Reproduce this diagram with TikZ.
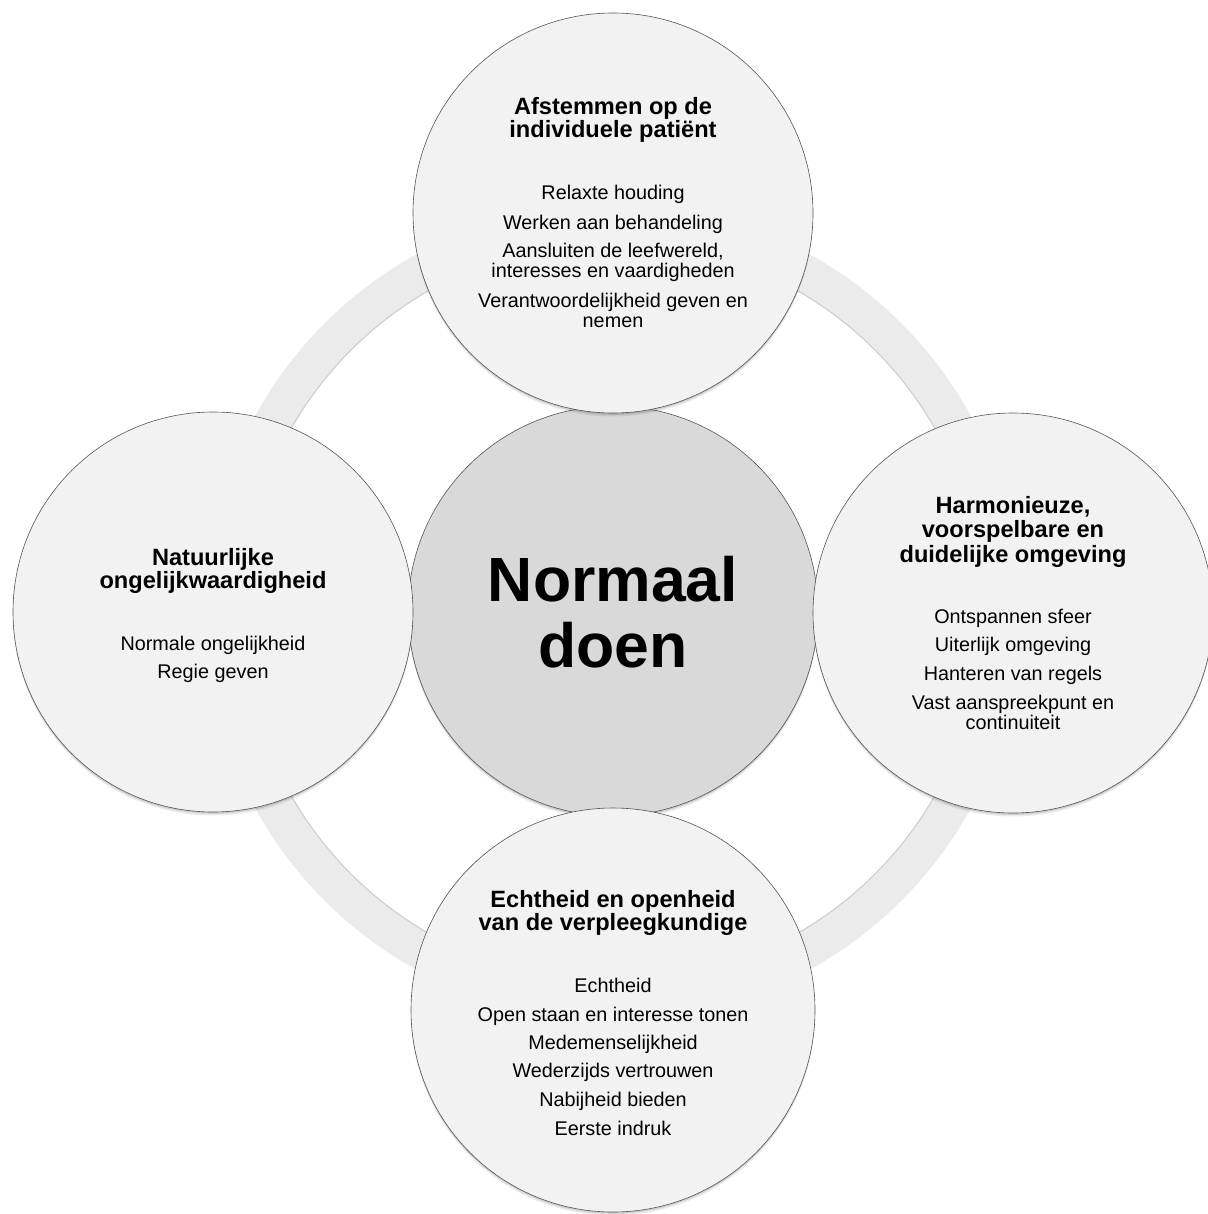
\documentclass[tikz,border=0pt]{standalone}
\usepackage{fontspec}
\setmainfont{Liberation Sans}
\usetikzlibrary{shadows}
\definecolor{ringc}{HTML}{EBEBEB}
\definecolor{ringedge}{HTML}{CDCDCD}
\definecolor{outerc}{HTML}{F2F2F2}
\definecolor{centc}{HTML}{D9D9D9}
\definecolor{edgec}{HTML}{555555}
\begin{document}
\begin{tikzpicture}[x=1pt,y=-1pt,
  bubble/.style={circle, draw=edgec, line width=0.6pt, inner sep=0pt,
    general shadow={fill=black, opacity=.08, shadow yshift=-3.5pt},
    general shadow={fill=black, opacity=.12, shadow yshift=-1.8pt}},
  head/.style={anchor=base, inner sep=0pt, font=\bfseries\fontsize{23.6}{24}\selectfont},
  body/.style={anchor=base, inner sep=0pt, font=\fontsize{19.8}{21}\selectfont},
  big/.style={anchor=base, inner sep=0pt, font=\bfseries\fontsize{62.5}{66}\selectfont}]
\useasboundingbox (0,0) rectangle (1207,1214);
\fill[white] (0,0) rectangle (1207,1214);
% ring
\draw[ringc, line width=38pt] (613,612) circle[radius=389];
\draw[ringedge, line width=1pt] (613,612) circle[radius=370.5];
% circles
\node[bubble, fill=centc, minimum size=410pt] (core) at (613,611) {};
\node[bubble, fill=outerc, minimum size=400pt] (top) at (613,213) {};
\node[bubble, fill=outerc, minimum size=400pt] (left) at (213,612) {};
\node[bubble, fill=outerc, minimum size=400pt] (right) at (1013,613) {};
\node[bubble, fill=outerc, minimum size=404pt] (bottom) at (613,1010) {};
% center text
\node[big] (c1) at (613,601) {Normaal};
\node[big] (c2) at (613,667) {doen};
% top
\node[head] (t1) at (613,115) {Afstemmen op de};
\node[head] (t2) at (613,138) {individuele patiënt};
\node[body] (t3) at (613,200) {Relaxte houding};
\node[body] (t4) at (613,230) {Werken aan behandeling};
\node[body] (t5) at (613,258) {Aansluiten de leefwereld,};
\node[body] (t6) at (613,278) {interesses en vaardigheden};
\node[body] (t7) at (613,307) {Verantwoordelijkheid geven en};
\node[body] (t8) at (613,327) {nemen};
% left
\node[head] (l1) at (213,565) {Natuurlijke};
\node[head] (l2) at (213,588) {ongelijkwaardigheid};
\node[body] (l3) at (213,650) {Normale ongelijkheid};
\node[body] (l4) at (213,678) {Regie geven};
% right
\node[head] (r1) at (1013,513) {Harmonieuze,};
\node[head] (r2) at (1013,537) {voorspelbare en};
\node[head] (r3) at (1013,562) {duidelijke omgeving};
\node[body] (r4) at (1013,623) {Ontspannen sfeer};
\node[body] (r5) at (1013,651) {Uiterlijk omgeving};
\node[body] (r6) at (1013,680) {Hanteren van regels};
\node[body] (r7) at (1013,709) {Vast aanspreekpunt en};
\node[body] (r8) at (1013,729) {continuiteit};
% bottom
\node[head] (b1) at (613,907) {Echtheid en openheid};
\node[head] (b2) at (613,930) {van de verpleegkundige};
\node[body] (b3) at (613,992) {Echtheid};
\node[body] (b4) at (613,1021) {Open staan en interesse tonen};
\node[body] (b5) at (613,1049) {Medemenselijkheid};
\node[body] (b6) at (613,1077) {Wederzijds vertrouwen};
\node[body] (b7) at (613,1106) {Nabijheid bieden};
\node[body] (b8) at (613,1135) {Eerste indruk};
\end{tikzpicture}
\end{document}
